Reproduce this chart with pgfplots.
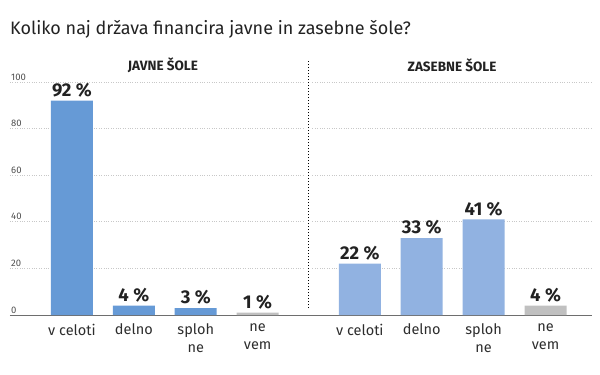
\documentclass[border=0pt]{standalone}
\usepackage{fontspec}
\setmainfont{Fira Sans}
\usepackage{pgfplots}
\pgfplotsset{compat=1.18}
\definecolor{blueA}{RGB}{102,154,214}
\definecolor{blueB}{RGB}{145,178,225}
\definecolor{grayC}{RGB}{192,192,192}
\definecolor{gridc}{RGB}{200,200,200}
\definecolor{txt}{RGB}{34,34,34}
\begin{document}
\begin{tikzpicture}[x=1pt,y=1pt]
\useasboundingbox (0,0) rectangle (600,375);
\node[anchor=west, font=\fontsize{18}{20}\selectfont, text=txt, inner sep=0] at (10,346) {Koliko naj država financira javne in zasebne šole?};
\begin{axis}[
  at={(10pt,60pt)}, anchor=south west,
  scale only axis, width=582pt, height=233pt,
  xmin=-1, xmax=8.4, ymin=0, ymax=100,
  clip=false,
  axis x line*=bottom, axis y line*=left,
  y axis line style={draw=none},
  x axis line style={draw={rgb,255:red,110;green,110;blue,110}, line width=0.8pt},
  xtick style={draw=none}, ytick style={draw=none},
  ytick={0,20,40,60,80,100},
  ymajorgrids, major grid style={gridc, dotted, line width=0.8pt},
  /pgf/number format/assume math mode=true,
  yticklabel style={anchor=south west, inner sep=1pt, yshift=0.5pt, font=\fontsize{9.5}{10}\selectfont, text={rgb,255:red,80;green,80;blue,80}},
  xtick={0,1,2,3,4.65,5.65,6.65,7.65},
  xticklabels={v celoti, delno, {sploh\\ne}, {ne\\vem}, v celoti, delno, {sploh\\ne}, {ne\\vem}},
  xticklabel style={align=center, anchor=north, yshift=-1pt, font=\fontsize{14.5}{17.5}\selectfont, text={rgb,255:red,45;green,45;blue,45}},
  ybar, bar width=42pt, bar shift=0pt,
  nodes near coords={\pgfmathprintnumber{\pgfplotspointmeta}\ \%},
  every node near coord/.append style={font=\bfseries\fontsize{18.5}{20}\selectfont, text=txt, yshift=0pt},
]
\addplot[fill=blueA, draw=none] coordinates {(0,92) (1,4) (2,3)};
\addplot[fill=grayC, draw=none] coordinates {(3,1) (7.65,4)};
\addplot[fill=blueB, draw=none] coordinates {(4.65,22) (5.65,33) (6.65,41)};
\draw[white, line width=6pt] (axis cs:3.82,1) -- (axis cs:3.82,101);
\draw[black, dotted, line width=1pt] (axis cs:3.82,3) -- (axis cs:3.82,109);
\node[font=\bfseries\fontsize{13.5}{14}\selectfont, text=txt] at (axis cs:1.47,107.3) {JAVNE ŠOLE};
\node[font=\bfseries\fontsize{13.5}{14}\selectfont, text=txt] at (axis cs:6.14,107.3) {ZASEBNE ŠOLE};
\end{axis}
\end{tikzpicture}
\end{document}
